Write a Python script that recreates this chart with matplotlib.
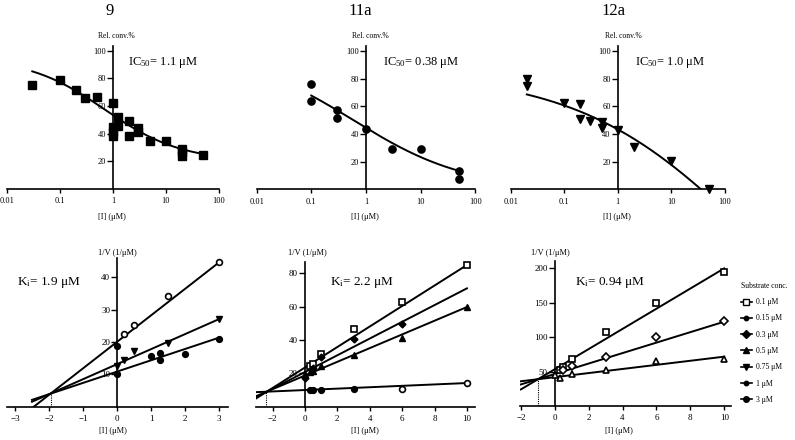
import numpy as np
import matplotlib
matplotlib.use('Agg')
import matplotlib.pyplot as plt
from matplotlib.lines import Line2D
from matplotlib.ticker import NullLocator

plt.rcParams['font.family'] = ['Liberation Serif', 'DejaVu Serif']
plt.rcParams['mathtext.fontset'] = 'custom'
plt.rcParams['mathtext.rm'] = 'Liberation Serif'
plt.rcParams['mathtext.it'] = 'Liberation Serif:italic'
plt.rcParams['axes.unicode_minus'] = True

# ---------------- data: top row (dose response) ----------------
titles = ['9', '11a', '12a']
ic50_labels = ['1.1', '0.38', '1.0']
log_ticks = [0.01, 0.1, 1, 10, 100]
log_tick_labels = ['0.01', '0.1', '1', '10', '100']
rel_ticks = [20, 40, 60, 80, 100]

x9 = [0.03, 0.1, 0.2, 0.3, 0.5, 1, 1, 1, 1, 1.25, 1.25, 2, 2, 3, 3, 5, 10, 20, 20, 20, 50]
y9 = [75.5, 79, 72, 66, 66.5, 62.5, 45, 41.5, 38.5, 52, 45.5, 49.5, 38.5, 44.5, 41.5, 35, 35, 29, 26.5, 24, 24.5]
x11 = [0.1, 0.1, 0.3, 0.3, 1, 3, 10, 50, 50]
y11 = [76, 64, 57.5, 51.5, 44, 29.5, 29.5, 13.5, 7.5]
x12 = [0.02, 0.02, 0.1, 0.2, 0.2, 0.3, 0.5, 0.5, 1, 2, 10, 50]
y12 = [80, 75, 62.5, 62, 51, 49.5, 48.5, 44.5, 43, 30.5, 20.5, 0]

# four-parameter logistic fit parameters: top, bottom, EC, hill, x-range
fit9 = [95, 20, 0.7, 0.6, 0.03, 50]
fit11 = [100, 0, 0.59, 0.42, 0.1, 50]
fit12 = [85, -150, 296.5, 0.27, 0.02, 37]

# ---------------- data: bottom row (Dixon plots) ----------------
ki_labels = ['1.9', '2.2', '0.94']

# panel 9
d9_open_x = [0.2, 0.5, 1.5, 3]
d9_open_y = [22.5, 25.3, 34.3, 44.7]
d9_tri_x = [0, 0.2, 0.5, 1.5, 3]
d9_tri_y = [12.5, 14.5, 17.3, 19.7, 27.2]
d9_dot_x = [0, 0, 1, 1.25, 1.25, 2, 3]
d9_dot_y = [10, 18.7, 15.5, 16.5, 14.5, 16.2, 21]
d9_slopes = [8.2, 4.65, 3.5]
d9_intercepts = [20.0, 13.1, 10.8]

# panel 11a
d11_sq_x = [0.3, 0.5, 1, 3, 6, 10]
d11_sq_y = [24.5, 25.5, 31.5, 46.5, 63, 85]
d11_dia_x = [0, 0.5, 1, 3, 6]
d11_dia_y = [17.5, 23, 30, 40.5, 49.5]
d11_tri_x = [0, 0.3, 0.5, 1, 3, 6, 10]
d11_tri_y = [19.5, 21, 21.5, 24.5, 31, 41, 60]
d11_dot_x = [0.3, 0.5, 1, 3]
d11_dot_y = [10, 10, 10.2, 10.5]
d11_open_x = [6, 10]
d11_open_y = [10.5, 14.2]
d11_slopes = [6.15, 5.02, 4.11, 0.42]
d11_intercepts = [23.5, 20.8, 18.7, 10.0]

# panel 12a
d12_sq_x = [0.3, 0.5, 1, 3, 6, 10]
d12_sq_y = [53, 57, 68, 107, 150, 195]
d12_dia_x = [0.5, 1, 3, 6, 10]
d12_dia_y = [52, 58, 71, 100, 123]
d12_tri_x = [0, 0.3, 1, 3, 6, 10]
d12_tri_y = [45, 40, 46, 52, 66, 68]
d12_slopes = [14.66, 7.6, 2.98]
d12_intercepts = [53.4, 46.5, 41.9]

legend_labels = ['0.1 μM', '0.15 μM', '0.3 μM', '0.5 μM', '0.75 μM', '1 μM', '3 μM']
legend_markers = ['s', 'o', 'D', '^', 'v', 'o', 'o']

# ---------------- figure ----------------
W, H = 795, 440
fig = plt.figure(figsize=(W / 100, H / 100), dpi=100)


def axes_px(x0, x1, ybot, ytop):
    return fig.add_axes([x0 / W, 1 - ybot / H, (x1 - x0) / W, (ybot - ytop) / H])


def ftext(x, y, s, **kw):
    fig.text(x / W, 1 - y / H, s, **kw)


def style(ax, spine_x, xlab=6, ylab=6):
    for s in ['top', 'right']:
        ax.spines[s].set_visible(False)
    ax.spines['left'].set_position(('data', spine_x))
    ax.spines['left'].set_linewidth(1.2)
    ax.spines['bottom'].set_linewidth(1.2)
    ax.tick_params(axis='y', direction='out', length=4, width=1, pad=1, labelsize=ylab)
    ax.tick_params(axis='x', direction='out', length=3, width=1, pad=3, labelsize=xlab)
    ax.patch.set_visible(False)


def fourpl(x, top, bottom, ec, hill):
    return bottom + (top - bottom) / (1 + (x / ec) ** hill)


LW = 1.4
top_rects = [(7, 219, 189, 46), (256.6, 475.4, 189.4, 46.2), (510.7, 724.7, 189.4, 46.2)]
top_data = [(x9, y9, fit9, 's', 5.4), (x11, y11, fit11, 'o', 5.2), (x12, y12, fit12, 'v', 5.4)]
top_axes = []
for rect, (xs, ys, fit, mk, ms) in zip(top_rects, top_data):
    ax = axes_px(*rect)
    ax.set_xscale('log')
    ax.set_xlim(0.01, 100)
    ax.set_ylim(0, 103.5)
    style(ax, 1)
    ax.set_xticks(log_ticks)
    ax.set_xticklabels(log_tick_labels)
    ax.xaxis.set_minor_locator(NullLocator())
    ax.set_yticks(rel_ticks)
    xf = np.logspace(np.log10(fit[4]), np.log10(fit[5]), 200)
    ax.plot(xf, fourpl(xf, *fit[:4]), color='black', lw=LW, zorder=3)
    ax.plot(xs, ys, ls='none', marker=mk, ms=ms, color='black', zorder=4, clip_on=False)
    top_axes.append(ax)

# titles and labels (top)
for cx, t in zip([110, 360, 613], titles):
    ftext(cx, 11, t, ha='center', va='center', fontsize=12)
for cx in [116, 370, 623]:
    ftext(cx, 36, 'Rel. conv.%', ha='center', va='center', fontsize=5.5)
for cx in [112, 365, 617]:
    ftext(cx, 217, '[I] (μM)', ha='center', va='center', fontsize=6)
for x0, lab in zip([128, 383, 635], ic50_labels):
    ftext(x0, 62, 'IC$_{50}$= ' + lab + ' μM', ha='left', va='center', fontsize=9)

# ---------------- bottom row ----------------
bot_rects = [(6.5, 227.5, 406.5, 257.9), (256, 475, 406.7, 261.7), (520, 731, 406, 260.8)]
bot_xlims = [(-3.25, 3.25), (-3.02, 10.5), (-2.05, 10.4)]
bot_ylims = [(0, 46), (0, 87), (0, 211)]
bot_xticks = [[-3, -2, -1, 0, 1, 2, 3], [-2, 0, 2, 4, 6, 8, 10], [-2, 0, 2, 4, 6, 8, 10]]
bot_yticks = [[10, 20, 30, 40], [20, 40, 60, 80], [50, 100, 150, 200]]
line_starts = [-2.5, -3.0, -2.0]
line_ends = [3, 10, 10]
slopes_all = [d9_slopes, d11_slopes, d12_slopes]
inters_all = [d9_intercepts, d11_intercepts, d12_intercepts]

bot_axes = []
for i, rect in enumerate(bot_rects):
    ax = axes_px(*rect)
    ax.set_xlim(*bot_xlims[i])
    ax.set_ylim(*bot_ylims[i])
    style(ax, 0, xlab=6.5, ylab=6.5)
    ax.set_xticks(bot_xticks[i])
    ax.set_yticks(bot_yticks[i])
    xl = np.array([line_starts[i], line_ends[i]])
    for m, b in zip(slopes_all[i], inters_all[i]):
        ax.plot(xl, m * xl + b, color='black', lw=LW, zorder=3)
    m1, m2 = slopes_all[i][0], slopes_all[i][1]
    b1, b2 = inters_all[i][0], inters_all[i][1]
    xi = (b2 - b1) / (m1 - m2)
    yi = m1 * xi + b1
    ax.plot([xi, xi], [0, yi], ls=(0, (1, 1)), color='black', lw=0.8, zorder=3)
    bot_axes.append(ax)

mkw = dict(ls='none', color='black', zorder=4, clip_on=False)
a = bot_axes[0]
a.plot(d9_open_x, d9_open_y, marker='o', ms=4.2, mfc='white', mew=1.2, **mkw)
a.plot(d9_tri_x, d9_tri_y, marker='v', ms=4.8, **mkw)
a.plot(d9_dot_x, d9_dot_y, marker='o', ms=4.2, **mkw)

a = bot_axes[1]
a.plot(d11_sq_x, d11_sq_y, marker='s', ms=4.5, mfc='white', mew=1.2, **mkw)
a.plot(d11_dia_x, d11_dia_y, marker='D', ms=3.5, **mkw)
a.plot(d11_tri_x, d11_tri_y, marker='^', ms=4.5, **mkw)
a.plot(d11_dot_x, d11_dot_y, marker='o', ms=4.2, **mkw)
a.plot(d11_open_x, d11_open_y, marker='o', ms=4.2, mfc='white', mew=1.2, **mkw)

a = bot_axes[2]
a.plot(d12_sq_x, d12_sq_y, marker='s', ms=4.8, mfc='white', mew=1.2, **mkw)
a.plot(d12_dia_x, d12_dia_y, marker='D', ms=3.8, mfc='white', mew=1.2, **mkw)
a.plot(d12_tri_x, d12_tri_y, marker='^', ms=4.8, mfc='white', mew=1.2, **mkw)

for cx in [117.5, 307, 550]:
    ftext(cx, 253, '1/V (1/μM)', ha='center', va='center', fontsize=6)
for cx in [113, 365, 619]:
    ftext(cx, 431, '[I] (μM)', ha='center', va='center', fontsize=6)
for x0, lab in zip([17, 330, 575], ki_labels):
    ftext(x0, 283, 'K$_{\\mathrm{i}}$= ' + lab + ' μM', ha='left', va='center', fontsize=9.5)

# legend
handles = []
for i, mk in enumerate(legend_markers):
    fc = 'white' if i == 0 else 'black'
    ms = 3.2 if i in (1, 5) else 4
    handles.append(Line2D([0], [0], color='black', lw=1.2, marker=mk, ms=ms, mfc=fc, mec='black', mew=1.0))
fig.legend(handles, legend_labels, loc='upper left', bbox_to_anchor=(741 / W, 1 - 282 / H),
           frameon=False, title='Substrate conc.', fontsize=5.5, title_fontsize=5.5,
           handlelength=1.4, handletextpad=0.5, labelspacing=1.08, borderpad=0,
           borderaxespad=0, alignment='left')

fig.savefig('out.png', dpi=100)
